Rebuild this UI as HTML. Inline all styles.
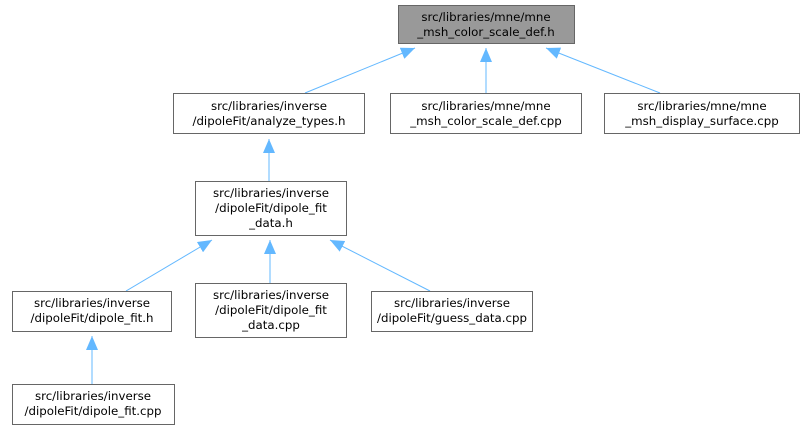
<!DOCTYPE html>
<html><head><style>body{margin:0;background:#fff}svg text{font-family:"DejaVu Sans","Liberation Sans",sans-serif;font-size:11.8px;fill:#000;text-anchor:middle}</style></head>
<body>
<svg width="805" height="432" viewBox="0 0 805 432" xmlns="http://www.w3.org/2000/svg">
<defs><marker id="a" markerWidth="14" markerHeight="12" refX="0" refY="6" orient="auto" markerUnits="userSpaceOnUse"><path d="M14,0 L0,6 L14,12 z" fill="#63b8ff"/></marker></defs>
<g stroke="#63b8ff" stroke-width="1" fill="none">
<line x1="415" y1="48" x2="305" y2="93" marker-start="url(#a)"/>
<line x1="486" y1="48" x2="486" y2="93" marker-start="url(#a)"/>
<line x1="546" y1="48" x2="660" y2="93" marker-start="url(#a)"/>
<line x1="269" y1="139" x2="269" y2="181" marker-start="url(#a)"/>
<line x1="212" y1="240" x2="126" y2="291" marker-start="url(#a)"/>
<line x1="270" y1="240" x2="270" y2="283" marker-start="url(#a)"/>
<line x1="330" y1="240" x2="430" y2="291" marker-start="url(#a)"/>
<line x1="92" y1="336" x2="92" y2="384" marker-start="url(#a)"/>
</g>
<g stroke="#666" stroke-width="1">
<rect x="398.5" y="5.5" width="176" height="38" fill="#999"/>
<rect x="173.5" y="93.5" width="191" height="40" fill="#fff"/>
<rect x="390.5" y="93.5" width="191" height="40" fill="#fff"/>
<rect x="604.5" y="93.5" width="195" height="40" fill="#fff"/>
<rect x="195.5" y="181.5" width="151" height="54" fill="#fff"/>
<rect x="12.5" y="291.5" width="159" height="40" fill="#fff"/>
<rect x="195.5" y="283.5" width="151" height="54" fill="#fff"/>
<rect x="371.5" y="291.5" width="161" height="40" fill="#fff"/>
<rect x="12.5" y="384.5" width="162" height="40" fill="#fff"/>
</g>
<text x="486" y="21">src/libraries/mne/mne</text><text x="486" y="36">_msh_color_scale_def.h</text>
<text x="269" y="110">src/libraries/inverse</text><text x="269" y="125">/dipoleFit/analyze_types.h</text>
<text x="486" y="110">src/libraries/mne/mne</text><text x="486" y="125">_msh_color_scale_def.cpp</text>
<text x="702" y="110">src/libraries/mne/mne</text><text x="702" y="125">_msh_display_surface.cpp</text>
<text x="271" y="197">src/libraries/inverse</text><text x="271" y="212">/dipoleFit/dipole_fit</text><text x="271" y="227">_data.h</text>
<text x="92" y="307">src/libraries/inverse</text><text x="92" y="322">/dipoleFit/dipole_fit.h</text>
<text x="271" y="299">src/libraries/inverse</text><text x="271" y="314">/dipoleFit/dipole_fit</text><text x="271" y="329">_data.cpp</text>
<text x="452" y="307">src/libraries/inverse</text><text x="452" y="322">/dipoleFit/guess_data.cpp</text>
<text x="93" y="400">src/libraries/inverse</text><text x="93" y="415">/dipoleFit/dipole_fit.cpp</text>
</svg>
</body></html>
